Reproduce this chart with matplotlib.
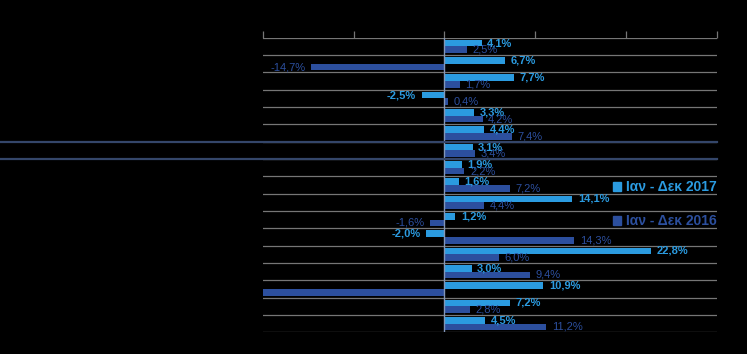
import matplotlib.pyplot as plt
from matplotlib.patches import Patch
from matplotlib.lines import Line2D
import numpy as np

plt.rcParams['font.family'] = ['Liberation Sans', 'DejaVu Sans']

# category names are not readable in the reference (black on black)
categories = ['%d' % (i + 1) for i in range(17)]
vals_2017 = [4.1, 6.7, 7.7, -2.5, 3.3, 4.4, 3.1, 1.9, 1.6, 14.1,
             1.2, -2.0, 22.8, 3.0, 10.9, 7.2, 4.5]
vals_2016 = [2.5, -14.7, 1.7, 0.4, 4.2, 7.4, 3.4, 2.2, 7.2, 4.4,
             -1.6, 14.3, 6.0, 9.4, -25.0, 2.8, 11.2]
series_names = ['Ιαν - Δεκ 2017', 'Ιαν - Δεκ 2016']

c17 = '#2b9be0'
c16 = '#2c4f9e'
grid_c = '#767676'


def fmt(v):
    return ('%.1f%%' % v).replace('.', ',')


def add_labels(ax, ys, vals, color, weight):
    for y, v in zip(ys, vals):
        off = 4 if v >= 0 else -4
        ax.annotate(fmt(v), xy=(v, y), xytext=(off, 0), textcoords='offset points',
                    ha='left' if v >= 0 else 'right', va='center',
                    fontsize=8, color=color, fontweight=weight)


fig = plt.figure(figsize=(7.47, 3.54), dpi=100, facecolor='black')
ax = fig.add_axes([0.352, 0.0613, 0.6074, 0.8322], facecolor='black')

n = len(categories)
y = np.arange(n)
h = 0.385

# row separators
for b in np.arange(n + 1) - 0.5:
    ax.axhline(b, color=grid_c, lw=0.9, zorder=1)

ax.barh(y - h / 2, vals_2017, height=h, color=c17, zorder=3)
ax.barh(y + h / 2, vals_2016, height=h, color=c16, zorder=3)
ax.axvline(0, color='#8196b8', lw=1.0, zorder=4)

add_labels(ax, y - h / 2, vals_2017, c17, 'bold')
add_labels(ax, y + h / 2, vals_2016, c16, 'normal')

ax.set_xlim(-20, 30)
ax.set_ylim(n - 0.5, -0.5)
ax.set_xticks(np.arange(-20, 31, 10))
ax.set_yticks([])
ax.xaxis.tick_top()
ax.tick_params(axis='x', colors=grid_c, length=5, width=0.9, labeltop=False, labelbottom=False)
for s in ['left', 'right', 'bottom', 'top']:
    ax.spines[s].set_visible(False)

# two long separator lines across the page
for yy in [1 - 141.7 / 354, 1 - 159.3 / 354]:
    fig.add_artist(Line2D([0, 0.9594], [yy, yy], color='#34466a', lw=1.6,
                          transform=fig.transFigure))

handles = [Patch(color=c17), Patch(color=c16)]
ax.legend(handles, series_names, loc='upper right', bbox_to_anchor=(1.0, 0.516),
          frameon=False, borderpad=0, borderaxespad=0, handlelength=0.55,
          handleheight=0.55, handletextpad=0.35, labelspacing=1.45,
          labelcolor=[c17, c16], prop={'size': 10, 'weight': 'bold'})

fig.savefig('out.png', dpi=100, facecolor='black')
